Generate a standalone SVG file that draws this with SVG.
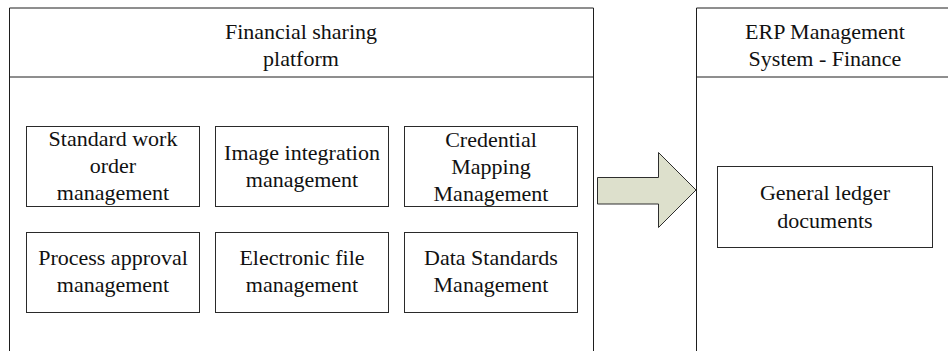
<svg xmlns="http://www.w3.org/2000/svg" width="948" height="351" viewBox="0 0 948 351">
  <style>
    .frame { fill: none; stroke: #1e1e1e; stroke-width: 1; }
    .box { fill: #ffffff; stroke: #2a2a2a; stroke-width: 1; }
    .label { font-family: 'Liberation Serif', serif; font-size: 22px; fill: #111; text-anchor: middle; }
  </style>
  <rect x="0" y="0" width="948" height="351" fill="#ffffff"/>

  <!-- Financial sharing platform container -->
  <g id="platform">
    <path class="frame" d="M9.5,360 V8 H593.5 V360"/>
    <path class="frame" d="M9.5,77 H593.5"/>
    <text class="label" x="301" y="39">Financial sharing</text>
    <text class="label" x="301" y="66">platform</text>
  </g>

  <g id="standard-work-order">
    <rect class="box" x="26.5" y="126.5" width="173" height="80"/>
    <text class="label" x="113" y="146">Standard work</text>
    <text class="label" x="113" y="173">order</text>
    <text class="label" x="113" y="200">management</text>
  </g>
  <g id="image-integration">
    <rect class="box" x="215.5" y="126.5" width="173" height="80"/>
    <text class="label" x="302" y="159.5">Image integration</text>
    <text class="label" x="302" y="186.5">management</text>
  </g>
  <g id="credential-mapping">
    <rect class="box" x="404.5" y="126.5" width="173" height="80"/>
    <text class="label" x="491" y="146.5">Credential</text>
    <text class="label" x="491" y="173.5">Mapping</text>
    <text class="label" x="491" y="200.5">Management</text>
  </g>
  <g id="process-approval">
    <rect class="box" x="26.5" y="232.5" width="173" height="80"/>
    <text class="label" x="113" y="265">Process approval</text>
    <text class="label" x="113" y="292">management</text>
  </g>
  <g id="electronic-file">
    <rect class="box" x="215.5" y="232.5" width="173" height="80"/>
    <text class="label" x="302" y="265">Electronic file</text>
    <text class="label" x="302" y="292">management</text>
  </g>
  <g id="data-standards">
    <rect class="box" x="404.5" y="232.5" width="173" height="80"/>
    <text class="label" x="491" y="265">Data Standards</text>
    <text class="label" x="491" y="292">Management</text>
  </g>

  <!-- ERP Management System - Finance container -->
  <g id="erp">
    <path class="frame" d="M696.5,360 V8 H960"/>
    <path class="frame" d="M696.5,77 H960"/>
    <text class="label" x="825" y="39">ERP Management</text>
    <text class="label" x="825" y="66">System - Finance</text>
  </g>

  <g id="general-ledger">
    <rect class="box" x="717.5" y="166.5" width="215" height="81"/>
    <text class="label" x="825" y="200">General ledger</text>
    <text class="label" x="825" y="227.5">documents</text>
  </g>

  <!-- block arrow between the two systems -->
  <g id="connectors">
    <polygon points="597.5,177.5 658.5,177.5 658.5,152.5 696,190 658.5,227.5 658.5,204 597.5,204" fill="#dde0cc" stroke="#2e2e2e" stroke-width="1"/>
  </g>
</svg>
